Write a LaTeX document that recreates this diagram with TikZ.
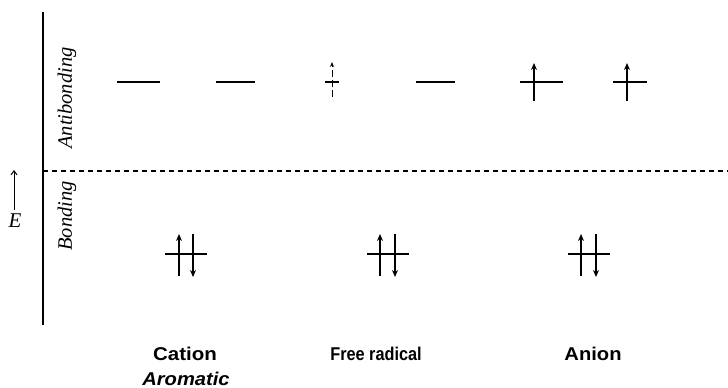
\documentclass[tikz,border=0pt]{standalone}
\usepackage{fontspec}
\usepackage{graphicx}
\setmainfont{Liberation Serif}
\setsansfont{Liberation Sans}
\usetikzlibrary{arrows.meta}
\begin{document}
\begin{tikzpicture}[x=1pt,y=-1pt,
  level/.style={line width=2.2pt},
  spin/.style={line width=1.8pt,-{Stealth[length=7pt,width=6pt]}},
  sidelabel/.style={font=\fontsize{20.5}{22}\selectfont\itshape,rotate=90,inner sep=0pt},
  caption/.style={font=\fontsize{18.5}{20}\selectfont\sffamily\bfseries,inner sep=0pt,anchor=base}]
\useasboundingbox (0,0) rectangle (728,388);
% axis and divider
\coordinate (axtop) at (43,12);
\coordinate (axbot) at (43,325);
\coordinate (dl) at (43,171);
\coordinate (dr) at (728,171);
\draw[line width=1.5pt] (axtop) -- (axbot);
\draw[line width=1.1pt,dash pattern=on 5pt off 4pt] (dl) -- (dr);
% energy arrow
\node[font=\fontsize{21}{22}\selectfont\itshape,inner sep=0pt] (E) at (15,221) {E};
\coordinate (Etip) at (14,170);
\coordinate (Ebase) at (14,210);
\draw[line width=1pt,-{Straight Barb[length=4pt,width=6pt]}] (Ebase) -- (Etip);
% side labels
\node[sidelabel] (anti) at (67,98) {Antibonding};
\node[sidelabel] (bond) at (67,216) {Bonding};
% antibonding levels
\draw[level] (117,82) -- (160,82);
\draw[level] (216,82) -- (255,82);
\draw[line width=1.5pt] (325,82) -- (339,82);
\draw[line width=1pt,dash pattern=on 7pt off 3pt,-{Stealth[length=5pt,width=4pt]}] (332,97) -- (332,62);
\draw[level] (416,82) -- (455,82);
\draw[level] (520,82) -- (563,82);
\draw[spin] (534,101) -- (534,63);
\draw[level] (613,82) -- (647,82);
\draw[spin] (627,101) -- (627,63);
% bonding levels
\draw[level] (165,254) -- (207,254);
\draw[spin] (179,276) -- (179,234);
\draw[spin] (193,234) -- (193,277);
\draw[level] (367,254) -- (409,254);
\draw[spin] (380,276) -- (380,234);
\draw[spin] (395,234) -- (395,277);
\draw[level] (568,254) -- (610,254);
\draw[spin] (581,276) -- (581,234);
\draw[spin] (596,234) -- (596,277);
% captions
\node[caption] (cat) at (185,360) {\scalebox{1.11}[1]{Cation}};
\node[caption] (arom) at (186,385) {\scalebox{1.09}[1]{\itshape Aromatic}};
\node[caption] (rad) at (376,360) {\scalebox{0.88}[1]{Free radical}};
\node[caption] (an) at (593,360) {\scalebox{1.09}[1]{Anion}};
\end{tikzpicture}
\end{document}
